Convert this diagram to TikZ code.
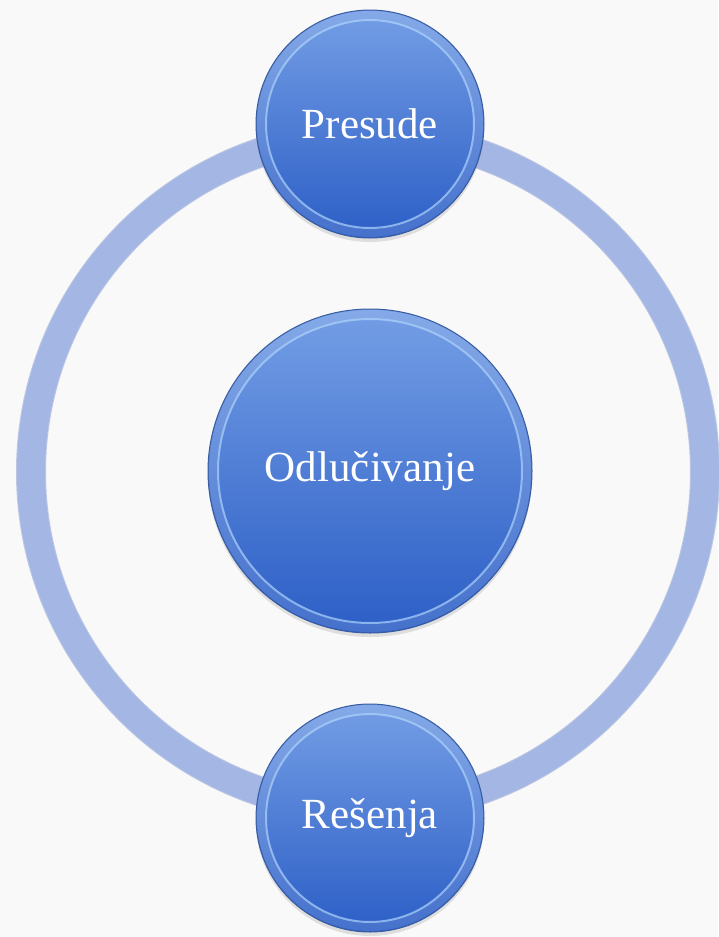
\documentclass[tikz,border=0pt]{standalone}
\usepackage{fontspec}
\setmainfont{Liberation Serif}
\usetikzlibrary{shadows}

\definecolor{ringblue}{RGB}{163,182,228}
\definecolor{ringedge}{RGB}{128,150,205}
\definecolor{ballTop}{RGB}{116,158,229}
\definecolor{ballBottom}{RGB}{44,94,198}
\definecolor{ballEdge}{RGB}{58,92,160}
\definecolor{bevelblue}{RGB}{178,214,252}
\definecolor{paper}{RGB}{249,249,249}

\begin{document}
\begin{tikzpicture}[x=1pt,y=1pt,node distance=347pt,
    main node/.style={circle,draw=ballEdge,line width=1pt,inner sep=0pt,
        top color=ballTop,bottom color=ballBottom,text=white,
        font=\fontsize{43}{48}\selectfont,
        drop shadow={shadow xshift=0pt,shadow yshift=-4pt,opacity=.18,fill=black!60}},
    big node/.style={main node,minimum size=324pt},
    small node/.style={main node,minimum size=228pt},
    rim/.style={draw=white,line width=8pt,opacity=.12},
    bevel/.style={draw=bevelblue,line width=2pt,opacity=.7},
    ring/.style={draw=ringblue,line width=28pt}]

            \useasboundingbox (0,0) rectangle (718,-937);
            \fill[paper] (0,0) rectangle (718,-937);

            \coordinate (mid) at (368,-472);
            \draw[ringedge,line width=30pt,opacity=.5] (mid) circle (337pt);
            \draw[ring] (mid) circle (337pt);

            \node[big node] (odl) at (370,-471) {Odlučivanje};
            \node[small node] (pres) [above of = odl] {Presude};
            \node[small node] (res) [below of = odl] {Rešenja};

            \draw[rim] (odl) circle (157pt);
            \draw[rim] (pres) circle (109pt);
            \draw[rim] (res) circle (109pt);
            \draw[bevel] (odl) circle (152pt);
            \draw[bevel] (pres) circle (104pt);
            \draw[bevel] (res) circle (104pt);

            ;
        \end{tikzpicture}
\end{document}
